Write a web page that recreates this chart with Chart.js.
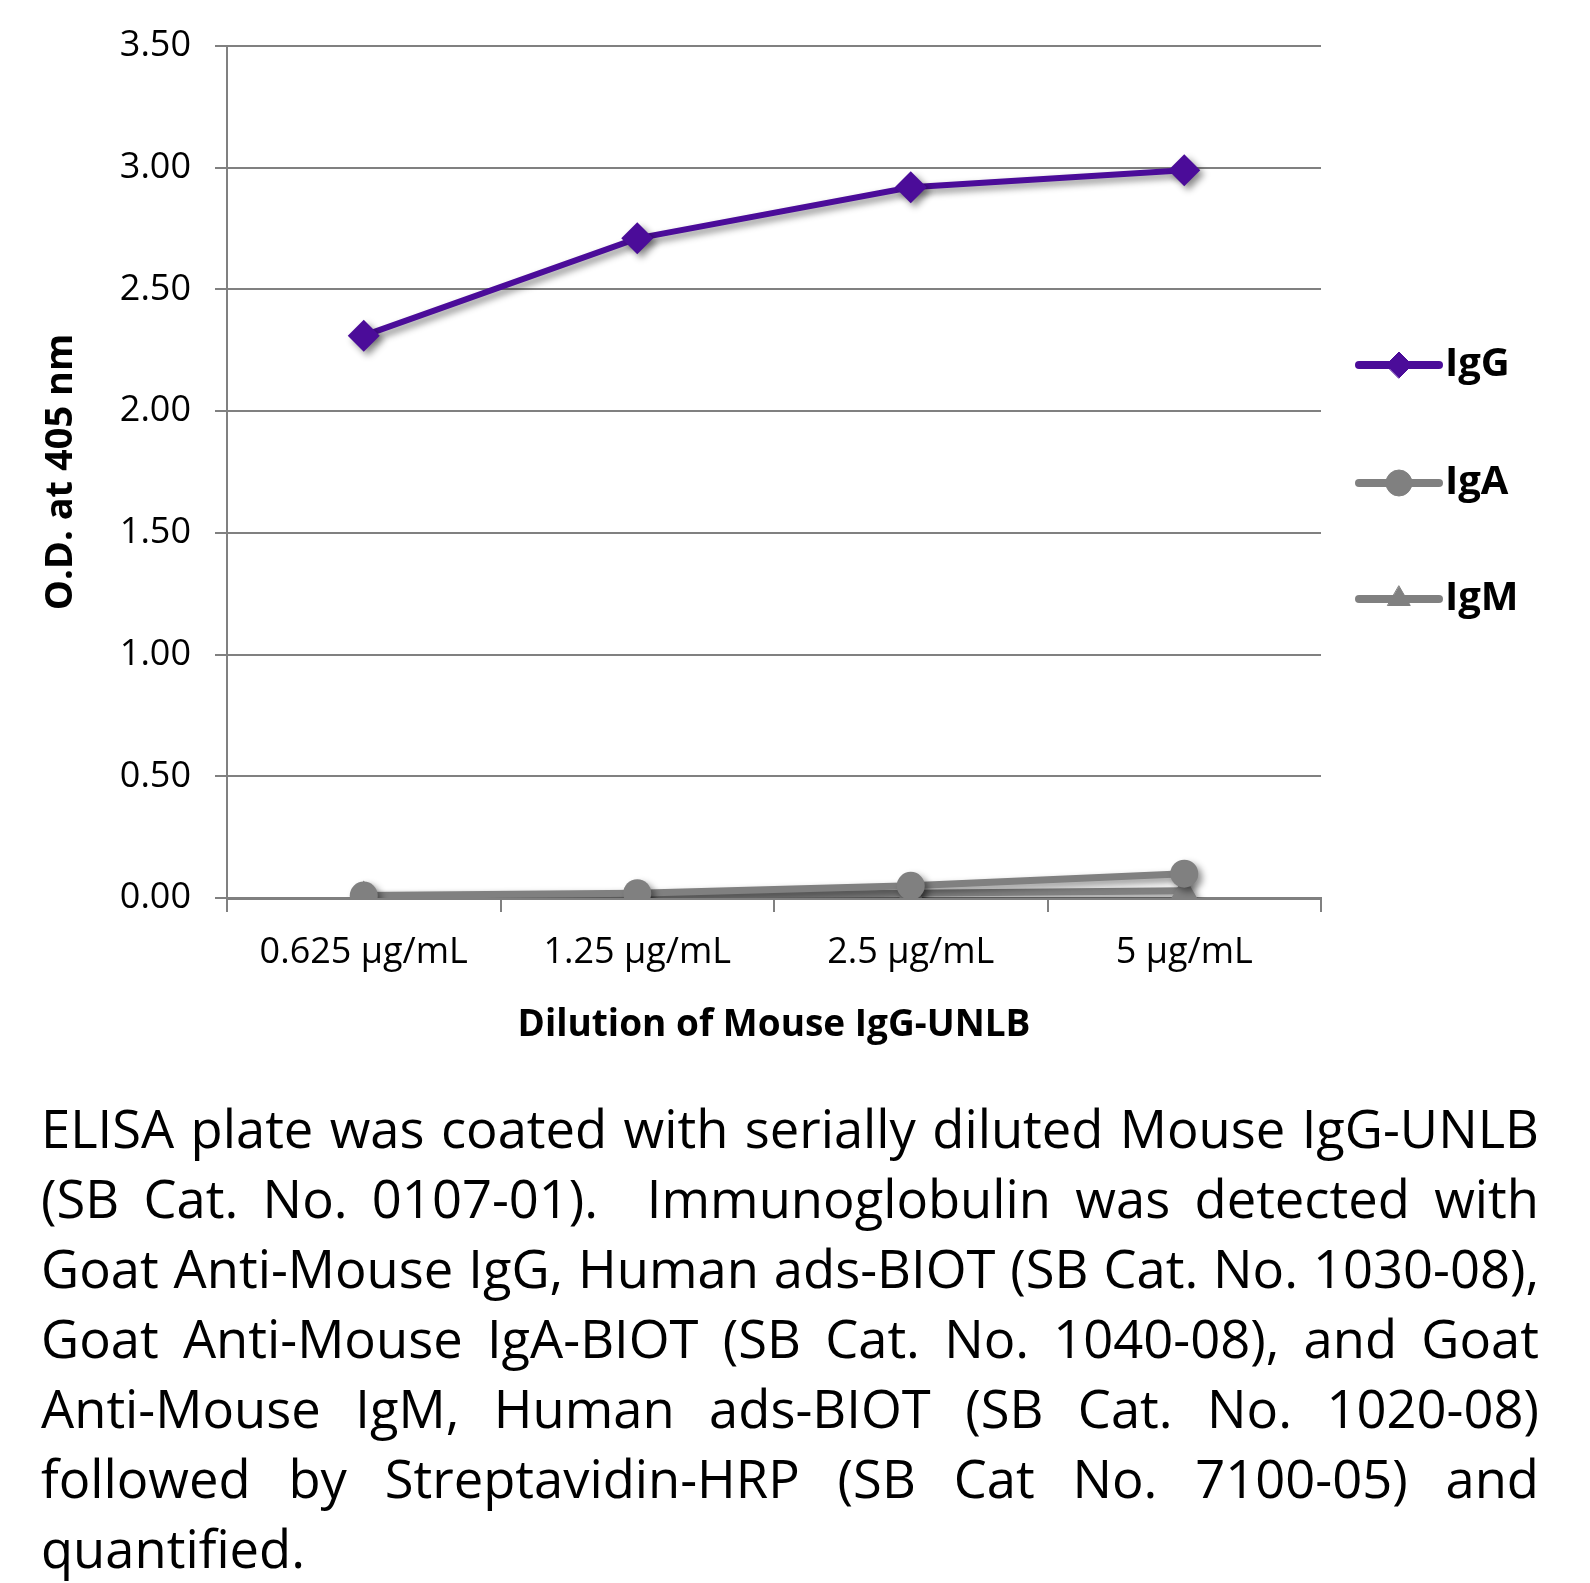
<!DOCTYPE html>
<html>
<head>
<meta charset="utf-8">
<script src="https://cdn.jsdelivr.net/npm/chart.js@4.4.0/dist/chart.umd.min.js"></script>
<style>
  html, body { margin: 0; padding: 0; background: #fff; }
  #wrap { position: absolute; left: 0; top: 0; width: 1590px; height: 1060px; }
  #caption { position: absolute; left: 41px; top: 1093px; width: 1498px;
             font-family: "Open Sans", "Noto Sans", sans-serif; color: #000; }
  #caption div { line-height: 70px; white-space: nowrap; }
  #caption.ready div { text-align: justify; text-align-last: justify; }
  #caption.ready div.last { text-align-last: left; }
</style>
</head>
<body>
<div id="wrap"><canvas id="odChart"></canvas></div>
<div id="caption"></div>
<script>
var categories = ['0.625 µg/mL', '1.25 µg/mL', '2.5 µg/mL', '5 µg/mL'];
var iggValues = [2.31, 2.71, 2.92, 2.99];
var igaValues = [0.01, 0.02, 0.05, 0.10];
var igmValues = [0.01, 0.01, 0.02, 0.03];
var yTicks = [0, 0.5, 1.0, 1.5, 2.0, 2.5, 3.0, 3.5];

var captionLines = [
    'ELISA plate was coated with serially diluted Mouse IgG-UNLB',
    '(SB Cat. No. 0107-01).&nbsp; Immunoglobulin was detected with',
    'Goat Anti-Mouse IgG, Human ads-BIOT (SB Cat. No. 1030-08),',
    'Goat Anti-Mouse IgA-BIOT (SB Cat. No. 1040-08), and Goat',
    'Anti-Mouse IgM, Human ads-BIOT (SB Cat. No. 1020-08)',
    'followed by Streptavidin-HRP (SB Cat No. 7100-05) and',
    'quantified.'
];

var purple = '#4B0C99';
var gray = '#808080';
var font = '"Open Sans", "Noto Sans", sans-serif';

// caption, shrink font until the widest line fits the column, then justify
var cap = document.getElementById('caption');
captionLines.forEach(function (t, i) {
    var d = document.createElement('div');
    d.innerHTML = '<span>' + t + '</span>';
    if (i == captionLines.length - 1) d.className = 'last';
    cap.appendChild(d);
});
var fs = 56;
cap.style.fontSize = fs + 'px';
function widest() {
    var w = 0;
    cap.querySelectorAll('span').forEach(function (s) { w = Math.max(w, s.getBoundingClientRect().width); });
    return w;
}
while (widest() > 1490 && fs > 30) { fs -= 0.5; cap.style.fontSize = fs + 'px'; }
cap.className = 'ready';

// soft drop shadow under lines and markers
var shadowPlugin = {
    id: 'shadow',
    beforeDatasetsDraw: function (chart) {
        var ctx = chart.ctx;
        ctx.save();
        ctx.shadowColor = 'rgba(0,0,0,0.45)';
        ctx.shadowBlur = 7;
        ctx.shadowOffsetX = 4;
        ctx.shadowOffsetY = 4;
    },
    afterDatasetsDraw: function (chart) {
        chart.ctx.restore();
    }
};

// legend: line + marker + bold label, stacked on the right
var sideLegend = {
    id: 'sideLegend',
    afterDraw: function (chart) {
        var ctx = chart.ctx;
        var ys = [365, 483, 599];
        chart.data.datasets.forEach(function (ds, i) {
            var y = ys[i];
            ctx.save();
            ctx.strokeStyle = ds.borderColor;
            ctx.lineWidth = 8;
            ctx.lineCap = 'round';
            ctx.beginPath();
            ctx.moveTo(1359, y);
            ctx.lineTo(1439, y);
            ctx.stroke();
            ctx.fillStyle = ds.backgroundColor;
            ctx.strokeStyle = ds.backgroundColor;
            ctx.lineWidth = 1;
            Chart.helpers.drawPoint(ctx, { pointStyle: ds.pointStyle, radius: 13, rotation: 0, borderWidth: 1 }, 1399, y);
            ctx.fillStyle = '#000';
            ctx.font = 'bold 40px ' + font;
            ctx.textBaseline = 'middle';
            ctx.fillText(ds.label, 1445, y);
            ctx.restore();
        });
    }
};

var ctx = document.getElementById('odChart').getContext('2d');
var odChart = new Chart(ctx, {
    type: 'line',
    data: {
        labels: categories,
        datasets: [{
            label: 'IgG',
            data: iggValues,
            borderColor: purple,
            backgroundColor: purple,
            borderWidth: 6,
            pointStyle: 'rectRot',
            pointRadius: 16,
            pointBorderWidth: 0
        }, {
            label: 'IgA',
            data: igaValues,
            borderColor: gray,
            backgroundColor: gray,
            borderWidth: 7,
            pointStyle: 'circle',
            pointRadius: 14,
            pointBorderWidth: 0
        }, {
            label: 'IgM',
            data: igmValues,
            borderColor: gray,
            backgroundColor: gray,
            borderWidth: 7,
            pointStyle: 'triangle',
            pointRadius: 15,
            pointBorderWidth: 0
        }]
    },
    options: {
        responsive: true,
        maintainAspectRatio: false,
        animation: false,
        layout: { padding: { top: 46, right: 269, left: 0, bottom: 0 } },
        plugins: {
            legend: { display: false },
            tooltip: { enabled: false }
        },
        scales: {
            x: {
                offset: true,
                grid: { offset: true, drawOnChartArea: false, drawTicks: true, tickLength: 14, color: gray, lineWidth: 2 },
                border: { color: gray, width: 3 },
                ticks: { color: '#000', font: { family: font, size: 36 }, padding: 19 },
                title: { display: true, text: 'Dilution of Mouse IgG-UNLB', color: '#000',
                         font: { family: font, size: 37, weight: 'bold' }, padding: { top: 0, bottom: 12 } },
                afterFit: function (s) { s.height = 1060 - 898; }
            },
            y: {
                min: 0,
                max: 3.5,
                afterBuildTicks: function (s) { s.ticks = yTicks.map(function (v) { return { value: v }; }); },
                grid: { color: gray, lineWidth: 2, tickLength: 12 },
                border: { color: gray, width: 2 },
                ticks: { color: '#000', font: { family: font, size: 36 }, padding: 24,
                         callback: function (v) { return Number(v).toFixed(2); } },
                title: { display: true, text: 'O.D. at 405 nm', color: '#000',
                         font: { family: font, size: 38, weight: 'bold' }, padding: { top: 38, bottom: 0 } },
                afterFit: function (s) { s.width = 227; }
            }
        }
    },
    plugins: [shadowPlugin, sideLegend]
});
</script>
</body>
</html>
